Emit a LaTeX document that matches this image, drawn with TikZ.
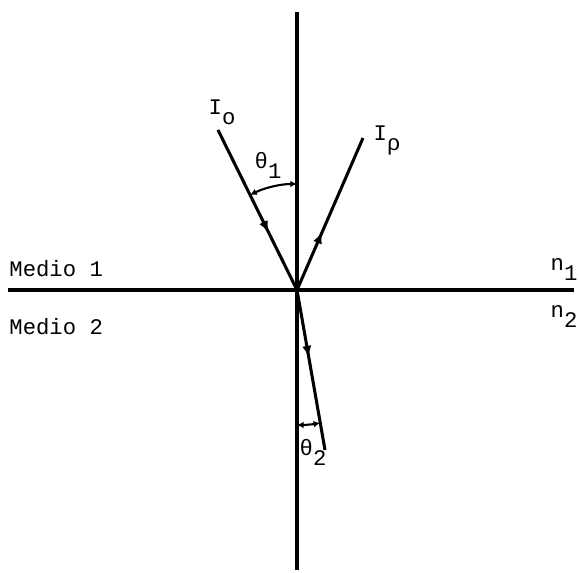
\documentclass[tikz,border=0pt]{standalone}
\usepackage{fontspec}
\setmainfont{Liberation Mono}
\usetikzlibrary{arrows.meta, decorations.markings}
\newcommand{\lowsub}[1]{\raisebox{-0.45em}{#1}}
\tikzset{
  axis/.style={line width=3pt},
  ray/.style={line width=2.6pt},
  raymark/.style={postaction={decorate}, decoration={markings, mark=at position #1 with {\arrow{Latex[length=3.4mm, width=2.8mm]}}}},
  anglearc/.style={line width=1.8pt, {Latex[length=2mm, width=2mm]}-{Latex[length=2mm, width=2mm]}},
  lbl/.style={font=\fontsize{19}{21}\selectfont, inner sep=1pt},
}
\begin{document}
\begin{tikzpicture}[x=0.03cm, y=0.03cm]
  \useasboundingbox (0,0) rectangle (579,573);
  % interface and normal
  \coordinate (O) at (297,283);
  \coordinate (ntop) at (297,561);
  \coordinate (nbot) at (297,3);
  \coordinate (left) at (8,283);
  \coordinate (right) at (574,283);
  \draw[axis] (ntop) -- (nbot);
  \draw[ray] (left) -- (right);
  % rays
  \coordinate (inc) at (218,443);
  \coordinate (refl) at (363,435);
  \coordinate (refr) at (325,123);
  \draw[ray, raymark=0.64] (inc) -- (O);
  \draw[ray, raymark=0.38] (O) -- (refl);
  \draw[ray, raymark=0.42] (O) -- (refr);
  % angles
  \draw[anglearc] ([shift={(116.3:3.18cm)}]O) arc[start angle=116.3, end angle=90, radius=3.18cm];
  \draw[anglearc] ([shift={(270:4.05cm)}]O) arc[start angle=270, end angle=279.9, radius=4.05cm];
  % labels
  \node[lbl] (Io) at (222,461) {I\lowsub{o}};
  \node[lbl] (Ir) at (387,433) {I\lowsub{ρ}};
  \node[lbl] (th1) at (268,408) {θ\lowsub{1}};
  \node[lbl] (th2) at (313,121) {θ\lowsub{2}};
  \node[lbl, anchor=west] (m1) at (8,304) {Medio 1};
  \node[lbl, anchor=west] (m2) at (8,246) {Medio 2};
  \node[lbl] (n1) at (564,303) {n\lowsub{1}};
  \node[lbl] (n2) at (564,256) {n\lowsub{2}};
\end{tikzpicture}
\end{document}
